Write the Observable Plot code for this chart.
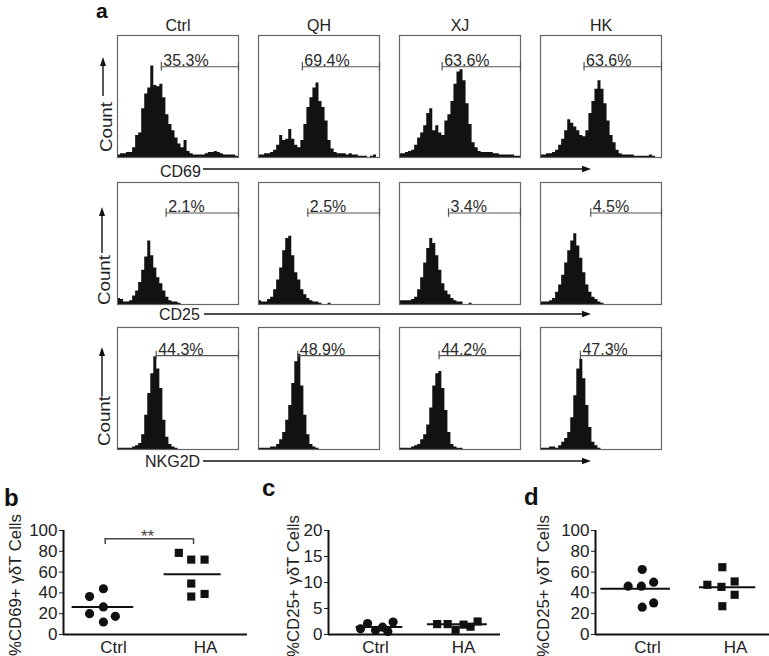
<!DOCTYPE html>
<html><head><meta charset="utf-8">
<script src="https://cdn.jsdelivr.net/npm/d3@7"></script>
<script src="https://cdn.jsdelivr.net/npm/@observablehq/plot@0.6"></script>
<style>
body{margin:0;background:#fff;}
#fig{position:relative;width:769px;height:656px;overflow:hidden;background:#fff;font-family:"Liberation Sans",Arial,sans-serif;}
#fig > svg{position:absolute;overflow:visible;}
</style></head><body><div id="fig"></div>
<script>
// ---------- DATA ----------
const panels = ["Ctrl", "QH", "XJ", "HK"];
const markerNames = ["CD69", "CD25", "NKG2D"];

// histogram heights (% of max count), 40 equal bins across the axis
const cd69Ctrl = [2,3,3,4,4,8,18,20,40,52,57,75,59,58,60,49,35,27,22,16,11,8,14,5,3,2,2,2,2,3,4,4,5,4,3,2,2,2,2,1];
const cd69QH   = [2,2,3,3,4,6,10,18,14,15,23,15,10,8,14,27,41,49,57,61,46,41,30,14,7,4,3,3,3,2,3,2,2,1,1,1,0,1,2,0];
const cd69XJ   = [3,3,4,5,6,10,16,20,26,36,40,22,26,20,18,30,35,46,60,70,72,63,44,27,12,8,5,4,4,4,4,3,3,2,2,2,2,2,1,1];
const cd69HK   = [2,2,3,3,4,6,10,15,22,31,28,25,22,18,17,22,36,46,56,63,56,44,30,18,12,6,3,2,2,2,2,1,1,1,1,1,2,1,0,0];

const cd25Ctrl = [5,4,2,2,3,7,11,18,28,39,52,40,30,22,17,11,6,3,2,2,1,0,0,0,0,0,0,0,0,0,0,0,0,0,0,0,0,0,0,0];
const cd25QH   = [3,2,2,4,6,12,20,30,44,54,56,40,26,20,12,8,5,3,2,2,1,0,0,1,0,0,0,0,0,0,0,0,0,0,0,0,0,0,0,0];
const cd25XJ   = [3,3,3,3,4,6,12,22,34,46,54,50,40,28,17,11,8,5,3,2,2,0,0,1,0,0,0,0,0,0,0,0,0,0,0,0,0,0,0,0];
const cd25HK   = [2,2,2,3,5,10,16,24,34,44,52,58,48,38,26,16,10,6,4,2,1,0,0,0,0,0,0,0,0,0,0,0,0,0,0,0,0,0,0,0];

const nkgCtrl  = [1,1,1,1,1,2,3,5,12,28,46,62,76,66,50,24,10,4,2,1,0,0,0,0,0,0,0,0,0,0,0,0,0,0,0,0,0,0,0,0];
const nkgQH    = [1,1,1,1,2,2,4,8,14,24,36,54,72,78,52,28,12,4,2,1,0,0,0,0,0,0,0,0,0,0,0,0,0,0,0,0,0,0,0,0];
const nkgXJ    = [1,1,1,1,2,3,4,8,12,20,34,52,62,64,50,32,14,4,2,1,1,0,0,0,0,0,0,0,0,0,0,0,0,0,0,0,0,0,0,0];
const nkgHK    = [1,1,1,2,2,1,3,6,9,14,26,44,66,74,58,36,18,6,3,1,0,0,0,0,0,0,0,0,0,0,0,0,0,0,0,0,0,0,0,0];

const cd69Pct = ["35.3%", "69.4%", "63.6%", "63.6%"];
const cd25Pct = ["2.1%", "2.5%", "3.4%", "4.5%"];
const nkgPct  = ["44.3%", "48.9%", "44.2%", "47.3%"];

// gate start (bin units) and gate level (% of max count)
const cd69GateStart = [14.5, 14.5, 14.1, 14.4];
const cd25GateStart = [16.1, 16.3, 16.2, 16.6];
const nkgGateStart  = [12.8, 13.0, 13.1, 13.2];
const gateLevels = [74.4, 75.0, 77.0];
const nBins = 40;

// scatter panels: groups
const groups = ["Ctrl", "HA"];
// b: %CD69+
const bCtrlX = [0.74, 0.89, 0.74, 0.89, 1.02, 0.89];
const bCtrlY = [36.5, 44, 20, 26.5, 17.5, 12];
const bHAX   = [1.71, 1.845, 1.99, 1.845, 1.845, 1.99];
const bHAY   = [78.5, 72, 72, 49, 36.5, 39];
const bMeanX1 = [0.55, 1.55], bMeanX2 = [1.22, 2.17], bMeanY = [26.5, 58];
// c: %CD25+
const cCtrlX = [0.83, 0.91, 1.0, 1.08, 1.14, 1.2];
const cCtrlY = [1.1, 2.1, 0.8, 1.4, 0.6, 2.4];
const cHAX   = [1.70, 1.82, 1.91, 2.0, 2.08, 2.16];
const cHAY   = [2.0, 2.0, 0.9, 1.9, 1.5, 2.5];
const cMeanX1 = [0.78, 1.59], cMeanX2 = [1.31, 2.27], cMeanY = [1.45, 1.95];
// d: %CD25+ (NKG2D panel)
const dCtrlX = [0.94, 0.78, 0.93, 1.07, 0.94, 1.07];
const dCtrlY = [62.5, 46.5, 46.5, 50.3, 26.3, 30.4];
const dHAX   = [1.85, 1.68, 1.84, 1.99, 1.99, 1.85];
const dHAY   = [64.7, 47.8, 45.8, 51, 38.2, 27.2];
const dMeanX1 = [0.47, 1.59], dMeanX2 = [1.26, 2.23], dMeanY = [44, 45.5];

const bTicks = [0, 20, 40, 60, 80, 100];
const cTicks = [0, 5, 10, 15, 20];
const yTitles = ["%CD69+ \u03b3\u03b4T Cells", "%CD25+ \u03b3\u03b4T Cells", "%CD25+ \u03b3\u03b4T Cells"];
const sigLabel = "**";
const sigFrom = 0.91, sigTo = 1.87, sigTop = 92, sigFoot = 86.5;

// ---------- DRAW ----------
const FONT = '"Liberation Sans", Arial, Helvetica, sans-serif';
const fig = document.getElementById("fig");

function place(el, left, top) { el.style.left = left + "px"; el.style.top = top + "px"; fig.appendChild(el); }

function histRow(hists, gateStarts, gateLevel, pcts, showTitles, marginTop, height) {
  const bins = [];
  panels.forEach((p, i) => {
    const h = hists[i];
    h.forEach((v, j) => bins.push({panel: p, x: j, h: v}));
    bins.push({panel: p, x: h.length, h: h[h.length - 1]});
  });
  const gates = panels.map((p, i) => ({panel: p, start: gateStarts[i], end: nBins, level: gateLevel, pct: pcts[i]}));
  return Plot.plot({
    width: 769, height, marginLeft: 116, marginRight: 106, marginTop, marginBottom: 2,
    style: {fontFamily: FONT, fontSize: "16px", color: "#222", background: "transparent"},
    fx: {domain: panels, paddingInner: 0.139, paddingOuter: 0, axis: showTitles ? "top" : null, label: null, tickSize: 0, tickPadding: 5},
    x: {domain: [0, nBins], axis: null},
    y: {domain: [0, 100], axis: null},
    marks: [
      Plot.areaY(bins, {fx: "panel", x: "x", y: "h", curve: "step-after", fill: "#121212"}),
      Plot.frame({stroke: "#666", strokeWidth: 1.2}),
      Plot.ruleY(gates, {fx: "panel", x1: "start", x2: "end", y: "level", stroke: "#555", strokeWidth: 1.2}),
      Plot.ruleX(gates, {fx: "panel", x: "start", y1: d => d.level - 3.5, y2: d => d.level + 3.5, stroke: "#555", strokeWidth: 1.2}),
      Plot.ruleX(gates, {fx: "panel", x: "end", y1: d => d.level - 3.5, y2: d => d.level + 3.5, stroke: "#555", strokeWidth: 1.2}),
      Plot.text(gates, {fx: "panel", x: "start", y: "level", text: "pct", textAnchor: "start", lineAnchor: "bottom", dx: 2, dy: -1, fill: "#2a2a2a", fontSize: 16})
    ]
  });
}

place(histRow([cd69Ctrl, cd69QH, cd69XJ, cd69HK], cd69GateStart, gateLevels[0], cd69Pct, true, 35, 159), 0, 0);
place(histRow([cd25Ctrl, cd25QH, cd25XJ, cd25HK], cd25GateStart, gateLevels[1], cd25Pct, false, 12, 136), 0, 170);
place(histRow([nkgCtrl, nkgQH, nkgXJ, nkgHK], nkgGateStart, gateLevels[2], nkgPct, false, 12, 136), 0, 315);

function scatter({ctrlX, ctrlY, haX, haY, m1, m2, my, xDomain, yDomain, ticks, width, marginLeft, marginRight, extra = []}) {
  const pts = [
    ...ctrlX.map((x, i) => ({g: groups[0], x, y: ctrlY[i]})),
    ...haX.map((x, i) => ({g: groups[1], x, y: haY[i]}))
  ];
  const means = groups.map((g, i) => ({g, x1: m1[i], x2: m2[i], y: my[i]}));
  return Plot.plot({
    width, height: 156, marginLeft, marginRight, marginTop: 30, marginBottom: 22,
    style: {fontFamily: FONT, fontSize: "17px", color: "#222", background: "transparent"},
    x: {domain: xDomain, ticks: [1, 2], tickFormat: d => groups[d - 1], tickSize: 0, tickPadding: 6, label: null},
    y: {domain: yDomain, ticks, tickSize: 4, tickPadding: 2, label: null},
    marks: [
      Plot.ruleY([yDomain[0]], {stroke: "#111", strokeWidth: 2}),
      Plot.ruleX([xDomain[0]], {y1: yDomain[0], y2: yDomain[1], stroke: "#111", strokeWidth: 2}),
      Plot.ruleY(means, {x1: "x1", x2: "x2", y: "y", stroke: "#111", strokeWidth: 2}),
      Plot.dot(pts, {x: "x", y: "y", r: 4.6, fill: "#111", stroke: null, symbol: d => d.g === "HA" ? "square" : "circle"}),
      ...extra
    ]
  });
}

const bDomain = [0.4565, 2.4565];
const bExtra = [
  Plot.ruleY([{a: sigFrom, b: sigTo, y: sigTop}], {x1: "a", x2: "b", y: "y", stroke: "#444", strokeWidth: 1.5}),
  Plot.ruleX([sigFrom, sigTo], {x: d => d, y1: sigFoot, y2: sigTop, stroke: "#444", strokeWidth: 1.5}),
  Plot.text([{x: (sigFrom + sigTo) / 2 - 0.02, y: 88.5, t: sigLabel}], {x: "x", y: "y", text: "t", lineAnchor: "bottom", fontSize: 17, fill: "#444"})
];
place(scatter({ctrlX: bCtrlX, ctrlY: bCtrlY, haX: bHAX, haY: bHAY, m1: bMeanX1, m2: bMeanX2, my: bMeanY,
  xDomain: bDomain, yDomain: [0, 100], ticks: bTicks, width: 255, marginLeft: 63, marginRight: 8, extra: bExtra}), 0, 500);
place(scatter({ctrlX: cCtrlX, ctrlY: cCtrlY, haX: cHAX, haY: cHAY, m1: cMeanX1, m2: cMeanX2, my: cMeanY,
  xDomain: [0.466, 2.42], yDomain: [0, 20], ticks: cTicks, width: 250, marginLeft: 68, marginRight: 10}), 260, 500);
place(scatter({ctrlX: dCtrlX, ctrlY: dCtrlY, haX: dHAX, haY: dHAY, m1: dMeanX1, m2: dMeanX2, my: dMeanY,
  xDomain: [0.409, 2.386], yDomain: [0, 100], ticks: bTicks, width: 244, marginLeft: 70, marginRight: 0}), 525, 500);

// ---------- ANNOTATIONS ----------
const ov = d3.create("svg").attr("width", 769).attr("height", 656)
  .style("left", "0px").style("top", "0px").style("pointer-events", "none")
  .attr("font-family", FONT);
function hArrow(x1, x2, y) {
  ov.append("line").attr("x1", x1).attr("x2", x2 - 6).attr("y1", y).attr("y2", y).attr("stroke", "#111").attr("stroke-width", 1.6);
  ov.append("path").attr("d", `M${x2},${y}L${x2 - 9},${y - 3.2}L${x2 - 9},${y + 3.2}Z`).attr("fill", "#111");
}
function vArrow(x, y1, y2) {
  ov.append("line").attr("x1", x).attr("x2", x).attr("y1", y1).attr("y2", y2 + 6).attr("stroke", "#111").attr("stroke-width", 1.4);
  ov.append("path").attr("d", `M${x},${y2}L${x - 3},${y2 + 9}L${x + 3},${y2 + 9}Z`).attr("fill", "#111");
}
function vText(x, y, txt, len, size) {
  ov.append("text").attr("transform", `translate(${x},${y}) rotate(-90)`).attr("text-anchor", "middle")
    .attr("font-size", size).attr("fill", "#222").attr("textLength", len).attr("lengthAdjust", "spacingAndGlyphs").text(txt);
}
ov.append("text").attr("x", 96).attr("y", 18).attr("font-size", 21).attr("font-weight", "bold").attr("fill", "#111").text("a");

const rowCfg = [
  {countX: 112, countY: 127, arrX: 103, arrFrom: 96, arrTo: 57, labX: 160, labY: 177, lineY: 169, lineFrom: 203},
  {countX: 110, countY: 280, arrX: 102, arrFrom: 253, arrTo: 207, labX: 159, labY: 320, lineY: 314, lineFrom: 204},
  {countX: 110, countY: 421, arrX: 102, arrFrom: 396, arrTo: 347, labX: 145, labY: 467, lineY: 461, lineFrom: 203}
];
rowCfg.forEach((r, i) => {
  vText(r.countX, r.countY, "Count", 50, 16);
  vArrow(r.arrX, r.arrFrom, r.arrTo);
  ov.append("text").attr("x", r.labX).attr("y", r.labY).attr("font-size", 16).attr("fill", "#222").text(markerNames[i]);
  hArrow(r.lineFrom, 591, r.lineY);
});

ov.append("text").attr("x", 4).attr("y", 506).attr("font-size", 24).attr("font-weight", "bold").attr("fill", "#111").text("b");
ov.append("text").attr("x", 262).attr("y", 496).attr("font-size", 24).attr("font-weight", "bold").attr("fill", "#111").text("c");
ov.append("text").attr("x", 524).attr("y", 505).attr("font-size", 24).attr("font-weight", "bold").attr("fill", "#111").text("d");
vText(21, 585, yTitles[0], 142, 16);
vText(299, 586, yTitles[1], 142, 16);
vText(549, 586, yTitles[2], 142, 16);

fig.appendChild(ov.node());
</script></body></html>
